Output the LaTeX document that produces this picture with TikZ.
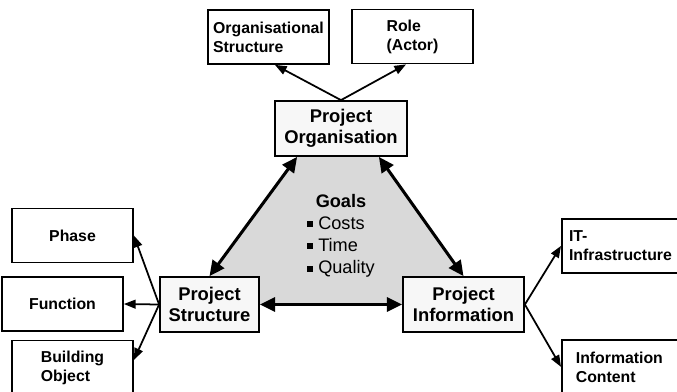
\documentclass[tikz,border=0pt]{standalone}
\usepackage{fontspec}
\setmainfont{Liberation Sans}
\usetikzlibrary{positioning, calc, arrows.meta, backgrounds}

\newcommand{\sqbullet}{\rule[0.22ex]{0.33em}{0.33em}}

\tikzset{
  mainbox/.style={draw, line width=1.5pt, fill=black!3, align=center,
    font=\bfseries\fontsize{15.7}{18.4}\selectfont, minimum height=1.65cm},
  subbox/.style={draw, line width=1.5pt, fill=white, align=left,
    font=\bfseries\fontsize{13.5}{16.2}\selectfont, minimum width=3.63cm, minimum height=1.62cm},
  leftbox/.style={subbox, anchor=north west, text width=3.2cm, inner xsep=0.18cm},
  subarrow/.style={line width=1.5pt, ->, >={Triangle[length=10pt,width=7.5pt]}},
  bigarrow/.style={line width=2.6pt, <->, >={Triangle[length=13pt,width=12pt]}}
}

\begin{document}
\begin{tikzpicture}[x=0.03cm, y=-0.03cm]

    \useasboundingbox (0,0) rectangle (677,391);
    \clip (0,0) rectangle (677,391);

    % --- Central Project Boxes ---
    \node[mainbox, minimum width=3.96cm] (projorg) at (341,128.5) {Project\\Organisation};
    \node[mainbox, minimum width=2.97cm] (projstruct) at (209.5,304.5) {Project\\Structure};
    \node[mainbox, minimum width=3.63cm] (projinfo) at (463.5,304.5) {Project\\Information};

    % --- Top Boxes ---
    \node[subbox] (orgstruct) at (268.5,37) {Organisational\\Structure};
    \node[subbox] (role) at (412.5,36.5) {Role\\(Actor)};

    % --- Left Boxes ---
    \node[subbox] (phase) at (72.5,235.5) {Phase};
    \node[subbox] (function) at (62.5,304) {Function};
    \node[subbox] (building) at (72.5,367.5) {Building\\Object};

    % --- Right Boxes (text left aligned) ---
    \node[leftbox] (itinfra) at (561,218) {IT-\\Infrastructure};
    \node[leftbox, inner xsep=0.42cm, text width=2.9cm] (infocontent) at (561,339) {Information\\Content};

    % --- Goals in the middle ---
    \node[font=\fontsize{15.5}{19}\selectfont] (goals) at (341,236)
      {\begin{tabular}{@{}l@{}}
         \multicolumn{1}{@{}c@{}}{\textbf{Goals}}\\
         \sqbullet\ Costs\\
         \sqbullet\ Time\\
         \sqbullet\ Quality
       \end{tabular}};

    % --- Grey triangle behind the goals ---
    \begin{scope}[on background layer]
      \fill[black!15] ($(projorg.south west)+(23,0)$) -- ($(projorg.south east)+(-29,0)$)
        -- (projinfo.north) -- (projinfo.north west) -- (projinfo.west)
        -- (projstruct.east) -- (projstruct.north east) -- (projstruct.north) -- cycle;
    \end{scope}

    % --- Thick double arrows between the project boxes ---
    \draw[bigarrow] ($(projorg.south west)+(23,0)$) -- (projstruct.north);
    \draw[bigarrow] ($(projorg.south east)+(-29,0)$) -- (projinfo.north);
    \draw[bigarrow] (projstruct.east) -- (projinfo.west);

    % --- Thin arrows to the outer boxes ---
    \draw[subarrow] (projorg.north) -- (orgstruct.-77);
    \draw[subarrow] (projorg.north) -- (role.-103);
    \draw[subarrow] (projstruct.west) -- (phase.east);
    \draw[subarrow] (projstruct.west) -- (function.east);
    \draw[subarrow] (projstruct.west) -- (building.7);
    \draw[subarrow] (projinfo.east) -- (itinfra.west);
    \draw[subarrow] (projinfo.east) -- (infocontent.west);

\end{tikzpicture}
\end{document}
